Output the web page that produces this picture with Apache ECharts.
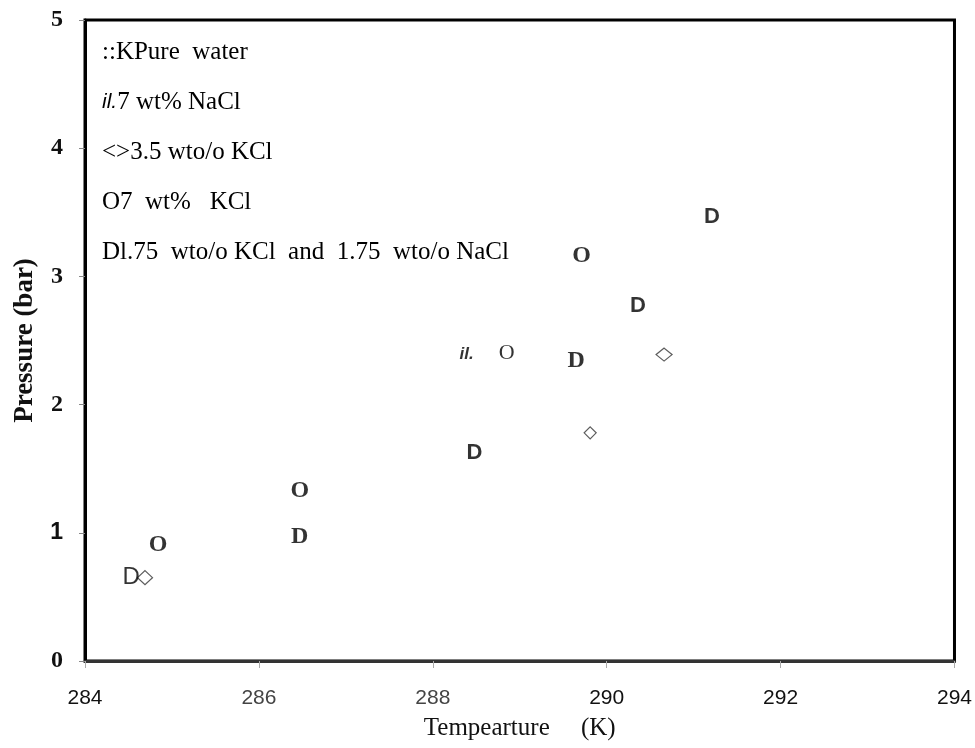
<!DOCTYPE html>
<html><head><meta charset="utf-8">
<script src="https://cdn.jsdelivr.net/npm/echarts@6/dist/echarts.min.js"></script>
<style>html,body{margin:0;padding:0;background:#fff}#c{width:975px;height:748px}</style>
</head><body><div id="c"></div>
<script>
// ---- data ----
const seriesNames = ['Pure water', '7 wt% NaCl', '3.5 wt% KCl', '7 wt% KCl', '1.75 wt% KCl and 1.75 wt% NaCl'];
const legendMarks = ['::K', 'il.', '<>', 'O', 'D'];
const legendTexts = ['Pure  water', '7 wt% NaCl', '3.5 wto/o KCl', '7  wt%   KCl', 'l.75  wto/o KCl  and  1.75  wto/o NaCl'];
const xTicks = [284, 286, 288, 290, 292, 294];
const yTicks = [0, 1, 2, 3, 4, 5];

const pureWaterX = [];
const pureWaterY = [];
const nacl7X = [288.39];
const nacl7Y = [2.39];
const kcl35X = [284.69, 289.81, 290.66];
const kcl35Y = [0.65, 1.78, 2.39];
const kcl7X = [284.84, 286.47, 288.85, 289.71];
const kcl7Y = [0.91, 1.33, 2.40, 3.16];
const mixX = [284.53, 286.47, 288.48, 289.65, 290.36, 291.21];
const mixY = [0.65, 0.97, 1.62, 2.34, 2.77, 3.46];

// ---- glyph styles (presentation only) ----
const SERIF = '"Liberation Serif", "Times New Roman", serif';
const SANS = '"Liberation Sans", Arial, sans-serif';
const NARROW = '"Liberation Sans Narrow", "Liberation Sans", sans-serif';
const base = {color: '#000', textBorderWidth: 0, textShadowBlur: 0};
const gBoldSerifO = Object.assign({fontFamily: SERIF, fontWeight: 'bold', fontSize: 24}, base);
const gBoldSerifD = Object.assign({fontFamily: SERIF, fontWeight: 'bold', fontSize: 24}, base);
const gSerif = Object.assign({fontFamily: SERIF, fontWeight: 'normal', fontSize: 22}, base);
const gBoldSans = Object.assign({fontFamily: SANS, fontWeight: 'bold', fontSize: 22}, base);
const gNarrow = Object.assign({fontFamily: NARROW, fontWeight: 'normal', fontSize: 24}, base);
const gItalic = Object.assign({fontFamily: SANS, fontWeight: 'bold', fontStyle: 'italic', fontSize: 17}, base);
const nacl7Styles = [gItalic];
const kcl7Styles = [gBoldSerifO, gBoldSerifO, gSerif, gBoldSerifO];
const mixStyles = [gNarrow, gBoldSerifD, gBoldSans, gBoldSerifD, gBoldSans, gBoldSans];
const diamondSizes = [[15, 14], [12, 12], [16, 13]];

function glyphData(xs, ys, styles) {
  return xs.map((x, i) => ({
    value: [x, ys[i]],
    label: Object.assign({}, styles[i])
  }));
}
function glyphSeries(name, glyph, xs, ys, styles) {
  return {
    name: name, type: 'scatter', symbol: 'circle', symbolSize: 1,
    itemStyle: {color: 'rgba(0,0,0,0)'},
    label: {show: true, position: 'inside', formatter: glyph, color: '#000', textBorderWidth: 0},
    emphasis: {disabled: true},
    data: glyphData(xs, ys, styles)
  };
}

const chart = echarts.init(document.getElementById('c'));
chart.setOption({
  animation: false,
  backgroundColor: '#fff',
  grid: {left: 85, top: 20, width: 871, height: 641, show: true, borderColor: '#000', borderWidth: 3, backgroundColor: 'transparent'},
  legend: {
    orient: 'vertical', left: 92, top: 35, itemWidth: 0, itemHeight: 25, itemGap: 25,
    icon: 'none', selectedMode: false,
    data: seriesNames,
    formatter: function (n) {
      const i = seriesNames.indexOf(n);
      const m = legendMarks[i];
      const mk = (m === 'il.') ? '{it|' + m + '}' : '{m|' + m + '}';
      return mk + '{t|' + legendTexts[i] + '}';
    },
    textStyle: {
      color: '#000', fontFamily: SERIF, fontSize: 25,
      rich: {
        m: {fontFamily: SERIF, fontSize: 25, color: '#000'},
        it: {fontFamily: SANS, fontStyle: 'italic', fontSize: 21, color: '#000'},
        t: {fontFamily: SERIF, fontSize: 25, color: '#000'}
      }
    }
  },
  xAxis: {
    type: 'value', min: xTicks[0], max: xTicks[xTicks.length - 1], interval: 2,
    name: 'Tempearture     (K)', nameLocation: 'middle', nameGap: 55,
    nameTextStyle: {fontFamily: SERIF, fontSize: 25, color: '#111'},
    axisLine: {show: true, onZero: false, lineStyle: {color: '#333', width: 3}},
    axisTick: {show: true, length: 7, lineStyle: {color: '#aaa', width: 1}},
    splitLine: {show: false},
    axisLabel: {
      margin: 27, color: '#111',
      formatter: function (v) {
        if (v === 286 || v === 288) return '{l|' + v + '}';
        return '{r|' + v + '}';
      },
      rich: {
        l: {fontFamily: SANS, fontSize: 21, color: '#444', fontWeight: 'lighter'},
        r: {fontFamily: SANS, fontSize: 21, color: '#111'}
      }
    }
  },
  yAxis: {
    type: 'value', min: yTicks[0], max: yTicks[yTicks.length - 1], interval: 1,
    name: 'Pressure (bar)', nameLocation: 'middle', nameGap: 46, nameRotate: 90,
    nameTextStyle: {fontFamily: SERIF, fontWeight: 'bold', fontSize: 27, color: '#111'},
    axisLine: {show: true, lineStyle: {color: '#000', width: 3}},
    axisTick: {show: true, length: 6, lineStyle: {color: '#888', width: 1}},
    splitLine: {show: false},
    axisLabel: {
      margin: 22, color: '#111',
      formatter: function (v) { return v === 1 ? '{s|' + v + '}' : '{b|' + v + '}'; },
      rich: {
        b: {fontFamily: SERIF, fontWeight: 'bold', fontSize: 24, color: '#111'},
        s: {fontFamily: SANS, fontWeight: 'bold', fontSize: 23, color: '#111'}
      }
    }
  },
  series: [
    glyphSeries(seriesNames[0], '::K', pureWaterX, pureWaterY, []),
    glyphSeries(seriesNames[1], 'il.', nacl7X, nacl7Y, nacl7Styles),
    {
      name: seriesNames[2], type: 'scatter', symbol: 'diamond',
      itemStyle: {color: '#fff', borderColor: '#333', borderWidth: 1.2},
      emphasis: {disabled: true},
      data: kcl35X.map((x, i) => ({value: [x, kcl35Y[i]], symbolSize: diamondSizes[i]}))
    },
    glyphSeries(seriesNames[3], 'O', kcl7X, kcl7Y, kcl7Styles),
    glyphSeries(seriesNames[4], 'D', mixX, mixY, mixStyles)
  ]
});
</script>
</body></html>
